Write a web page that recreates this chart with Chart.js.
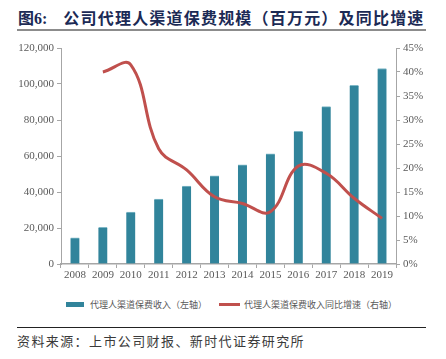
<!DOCTYPE html>
<html>
<head>
<meta charset="utf-8">
<script src="https://cdn.jsdelivr.net/npm/chart.js@4"></script>
<style>
  body { margin: 0; width: 446px; height: 359px; background: #fff; position: relative; overflow: hidden; }
  .title { position: absolute; left: 18px; top: 5px; font-family: "Noto Sans CJK SC"; font-weight: 700; font-size: 16px; color: #1b2a55; white-space: nowrap; }
  .title .num { font-family: "Liberation Serif"; font-weight: 700; }
  .title .main { margin-left: 16px; letter-spacing: 1.2px; }
  .rule { position: absolute; left: 17px; width: 409px; }
  .legend { position: absolute; top: 297px; left: 66px; font-family: "Noto Sans CJK SC"; font-size: 9px; color: #595959; white-space: nowrap; }
  .legend span { display: inline-block; vertical-align: middle; }
  .source { position: absolute; left: 17px; top: 331px; font-family: "Noto Sans CJK SC"; font-weight: 400; font-size: 13px; letter-spacing: 1.4px; color: #3a3a3a; white-space: nowrap; }
  #wrap { position: absolute; left: 0; top: 36px; width: 446px; height: 254px; }
</style>
</head>
<body>
<div class="title">图<span class="num">6:</span><span class="main">公司代理人渠道保费规模（百万元）及同比增速</span></div>
<div class="rule" style="top:29px;height:2px;background:#8c8c8c"></div>
<div id="wrap"><canvas id="chart"></canvas></div>
<div class="legend">
  <span style="width:18px;height:5px;background:#31849B"></span>
  <span style="margin-left:4px">代理人渠道保费收入（左轴）</span>
  <span style="width:21px;height:3px;background:#C0504D;margin-left:10px"></span>
  <span style="margin-left:2px">代理人渠道保费收入同比增速（右轴）</span>
</div>
<div class="rule" style="top:327px;height:1px;background:#222"></div>
<div class="source">资料来源：上市公司财报、新时代证券研究所</div>
<script>
const years = ["2008", "2009", "2010", "2011", "2012", "2013", "2014", "2015", "2016", "2017", "2018", "2019"]
const premium = [14600, 20400, 28800, 36000, 43300, 49000, 55100, 61200, 73700, 87400, 99300, 108600]
const growth = [null, 0.400, 0.415, 0.240, 0.196, 0.140, 0.126, 0.109, 0.204, 0.189, 0.137, 0.095]

const tickFont = { family: "'Liberation Serif', 'Times New Roman', serif", size: 11 }
const axisGray = "#A6A6A6"

new Chart(document.getElementById("chart"), {
  data: {
    labels: years,
    datasets: [
      {
        type: "line",
        data: growth,
        yAxisID: "y1",
        borderColor: "#C0504D",
        borderWidth: 3,
        pointRadius: 0,
        tension: 0.4,
        order: 0
      },
      {
        type: "bar",
        data: premium,
        yAxisID: "y",
        backgroundColor: "#31849B",
        borderColor: "#7fb8c7",
        borderWidth: { top: 1, left: 0, right: 0, bottom: 0 },
        barThickness: 9,
        order: 1
      }
    ]
  },
  options: {
    responsive: true,
    maintainAspectRatio: false,
    animation: false,
    layout: { padding: { top: 12, left: 0, right: 0, bottom: 0 } },
    plugins: { legend: { display: false }, tooltip: { enabled: false } },
    scales: {
      x: {
        offset: true,
        grid: { offset: true, drawOnChartArea: false, drawTicks: true, tickLength: 4, color: axisGray },
        border: { color: axisGray, width: 1.5 },
        ticks: { color: "#595959", font: tickFont, padding: 1, maxRotation: 0 },
        afterFit: (scale) => { scale.height = 26 }
      },
      y: {
        position: "left",
        min: 0,
        max: 120000,
        grid: { drawOnChartArea: false, tickLength: 4, color: axisGray },
        border: { color: axisGray, width: 1 },
        ticks: {
          stepSize: 20000,
          color: "#595959",
          font: tickFont,
          padding: 3,
          callback: (v) => v.toLocaleString("en-US")
        },
        afterFit: (scale) => { scale.width = 61 }
      },
      y1: {
        position: "right",
        min: 0,
        max: 0.45,
        grid: { drawOnChartArea: false, tickLength: 4, color: axisGray },
        border: { color: axisGray, width: 1 },
        ticks: {
          stepSize: 0.05,
          color: "#595959",
          font: tickFont,
          padding: 3,
          callback: (v) => Math.round(v * 100) + "%"
        },
        afterFit: (scale) => { scale.width = 50 }
      }
    }
  }
})
</script>
</body>
</html>
